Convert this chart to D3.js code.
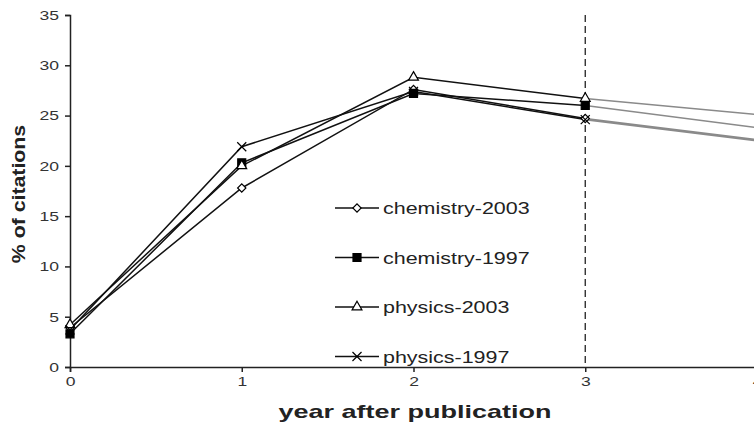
<!DOCTYPE html>
<html>
<head>
<meta charset="utf-8">
<script src="https://cdn.jsdelivr.net/npm/d3@7"></script>
<style>
  body { margin: 0; background: #fff; }
  svg { display: block; font-family: "Liberation Sans", Arial, sans-serif; }
</style>
</head>
<body>
<div id="chart"></div>
<script>
// data
var years = [0, 1, 2, 3, 4];
var yTicks = [0, 5, 10, 15, 20, 25, 30, 35];
var seriesNames = ['chemistry-2003', 'chemistry-1997', 'physics-2003', 'physics-1997'];
var chem2003 = [3.9, 17.8, 27.6, 24.7, 22.6];
var chem1997 = [3.3, 20.3, 27.2, 26.0, 23.8];
var phys2003 = [4.2, 20.0, 28.8, 26.7, 25.1];
var phys1997 = [3.7, 21.9, 27.4, 24.6, 22.5];
var cutYear = 3;

var series = [
	{name: seriesNames[0], values: chem2003, marker: 'diamond'},
	{name: seriesNames[1], values: chem1997, marker: 'square'},
	{name: seriesNames[2], values: phys2003, marker: 'triangle'},
	{name: seriesNames[3], values: phys1997, marker: 'cross'}
];

var width = 754, height = 429;
var margin = {top: 15, right: -3, bottom: 62, left: 70};
var stretch = 1.3; // the picture's text is wide

var svg = d3.select('#chart').append('svg')
	.attr('width', width)
	.attr('height', height);

var x = d3.scaleLinear().domain([0, 4]).range([margin.left, width - margin.right]);
var y = d3.scaleLinear().domain([0, 35]).range([height - margin.bottom, margin.top]);

function widen(sel, k) {
	sel.each(function() {
		var len = this.getComputedTextLength();
		d3.select(this).attr('textLength', len * k).attr('lengthAdjust', 'spacingAndGlyphs');
	});
}

// axes
var yAxis = svg.append('g')
	.attr('transform', 'translate(' + margin.left + ',0)')
	.call(d3.axisLeft(y).tickValues(yTicks).tickSize(5).tickPadding(6));
var xAxis = svg.append('g')
	.attr('transform', 'translate(0,' + y(0) + ')')
	.call(d3.axisBottom(x).tickValues(years).tickSize(5).tickPadding(4).tickFormat(d3.format('d')));

[xAxis, yAxis].forEach(function(g) {
	g.select('.domain').attr('stroke', '#222').attr('stroke-width', 1.5);
	g.selectAll('.tick line').attr('stroke', '#222').attr('stroke-width', 1.5);
	g.selectAll('.tick text').attr('fill', '#333').style('font-size', '13.5px').call(widen, stretch);
});

// dashed line at year 3
svg.append('line')
	.attr('x1', x(cutYear)).attr('x2', x(cutYear))
	.attr('y1', y(35)).attr('y2', y(0))
	.attr('stroke', '#222')
	.attr('stroke-width', 1.3)
	.attr('stroke-dasharray', '7,4');

var line = d3.line()
	.x(function(d) { return x(d.year); })
	.y(function(d) { return y(d.value); });

function points(s) {
	return s.values.map(function(v, i) { return {year: years[i], value: v}; });
}

var sym = {
	diamond: d3.symbol().type(d3.symbolSquare).size(34),
	square: d3.symbol().type(d3.symbolSquare).size(64),
	triangle: d3.symbol().type(d3.symbolTriangle).size(42),
	cross: d3.symbol().type(d3.symbolX).size(55)
};

function drawMarker(g, type, cx, cy) {
	var fill = type === 'square' ? '#000' : (type === 'cross' ? 'none' : '#fff');
	var rot = type === 'diamond' ? ' rotate(45)' : '';
	g.append('path')
		.attr('d', sym[type]())
		.attr('transform', 'translate(' + cx + ',' + cy + ')' + rot)
		.attr('fill', fill)
		.attr('stroke', '#000')
		.attr('stroke-width', 1.2);
}

// the grey extension past year 3
var later = svg.append('g').attr('class', 'later');
series.forEach(function(s) {
	later.append('path')
		.attr('d', line(points(s).filter(function(d) { return d.year >= cutYear; })))
		.attr('fill', 'none')
		.attr('stroke', '#8a8a8a')
		.attr('stroke-width', 1.6);
});

var main = svg.append('g').attr('class', 'series');
series.forEach(function(s) {
	var pts = points(s).filter(function(d) { return d.year <= cutYear; });
	main.append('path')
		.attr('d', line(pts))
		.attr('fill', 'none')
		.attr('stroke', '#111')
		.attr('stroke-width', 1.5);
});
series.forEach(function(s) {
	points(s).filter(function(d) { return d.year <= cutYear; }).forEach(function(d) {
		drawMarker(main, s.marker, x(d.year), y(d.value));
	});
});

// legend
var legend = svg.append('g').attr('class', 'legend');
series.forEach(function(s, i) {
	var ly = 208 + i * 49.5;
	legend.append('line')
		.attr('x1', 335).attr('x2', 379)
		.attr('y1', ly).attr('y2', ly)
		.attr('stroke', '#111').attr('stroke-width', 1.5);
	drawMarker(legend, s.marker, 357, ly);
	legend.append('text')
		.attr('x', 383).attr('y', ly + 6)
		.attr('fill', '#222')
		.style('font-size', '16.5px')
		.text(s.name)
		.call(widen, stretch);
});

// axis titles
svg.append('text')
	.attr('x', 415).attr('y', 418)
	.attr('text-anchor', 'middle')
	.style('font-size', '19px').style('font-weight', 'bold')
	.attr('fill', '#222')
	.text('year after publication')
	.call(widen, 1.42);

svg.append('text')
	.attr('transform', 'translate(25,' + (y(17.5) + 3) + ') rotate(-90)')
	.attr('text-anchor', 'middle')
	.style('font-size', '19px').style('font-weight', 'bold')
	.attr('fill', '#222')
	.text('% of citations')
	.call(widen, 1.12);
</script>
</body>
</html>
